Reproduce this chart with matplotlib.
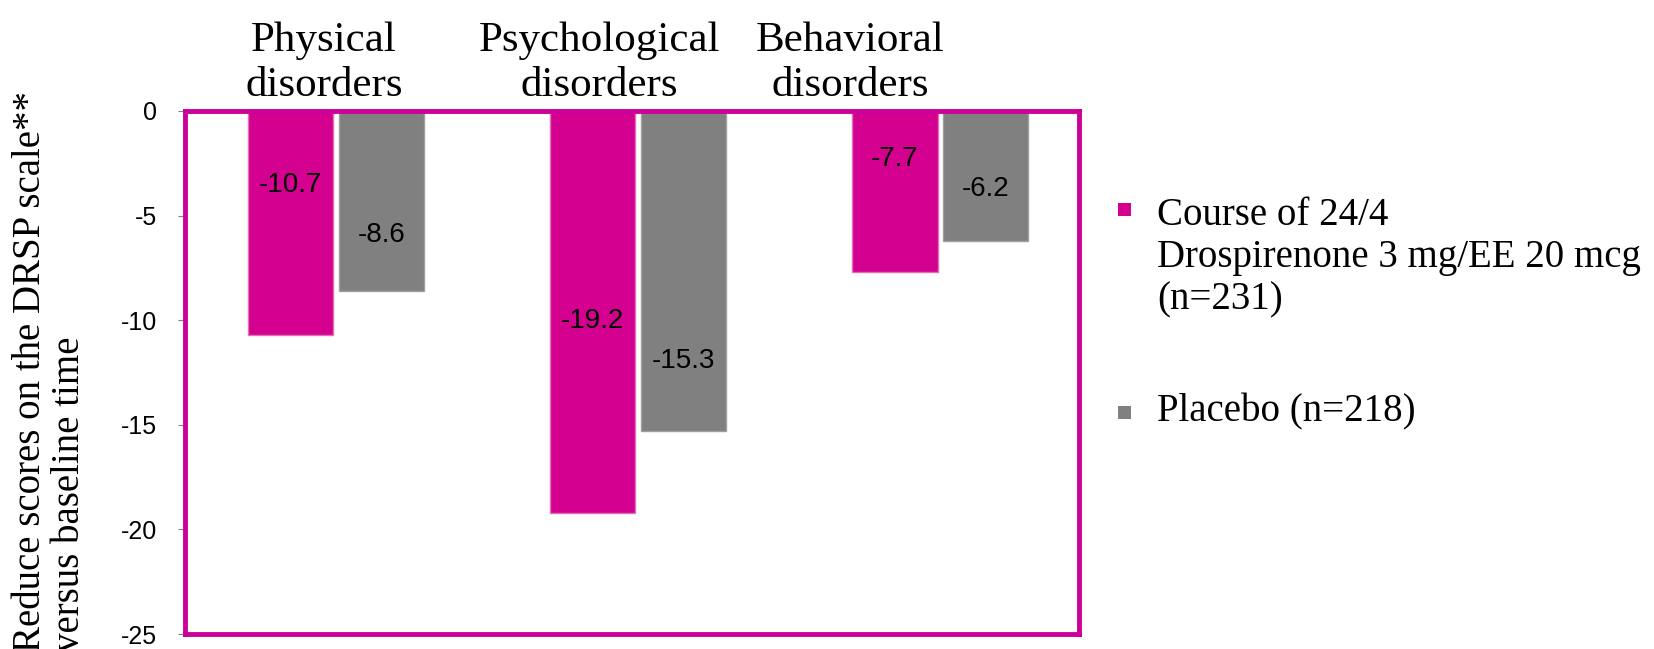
import matplotlib
matplotlib.use('Agg')
import matplotlib.pyplot as plt
from matplotlib.patches import Rectangle
import numpy as np

# Datos
categorias = ['Physical\ndisorders', 'Psychological\ndisorders', 'Behavioral\ndisorders']
series = ['Course of 24/4\nDrospirenone 3 mg/EE 20 mcg\n(n=231)', 'Placebo (n=218)']
drospirenona = [-10.7, -19.2, -7.7]
placebo = [-8.6, -15.3, -6.2]
yticks = [0, -5, -10, -15, -20, -25]

# Estilos
rosa, gris, marco = '#D4008F', '#808080', '#CC0099'
serif = 'Liberation Serif'
sans = 'Liberation Sans'

fig = plt.figure(figsize=(16.54, 6.49), dpi=100)
ax = fig.add_axes([0.1118, 0.023, 0.5406, 0.806])

x = np.arange(len(categorias))
ancho = 0.283
b1 = ax.bar(x - 0.15, drospirenona, ancho, color=rosa, edgecolor='#E070B8', linewidth=1)
b2 = ax.bar(x + 0.15, placebo, ancho, color=gris, edgecolor='#A0A0A0', linewidth=1)

# Etiquetas de valores (alturas como en el original)
pos_rosa = [-3.55, -10.05, -2.3]
pos_gris = [-5.95, -11.95, -3.75]
for rect, v, yy in zip(b1, drospirenona, pos_rosa):
    ax.text(rect.get_x() + rect.get_width() / 2, yy, f'{v:.1f}', ha='center', va='center',
            fontsize=20, family=sans)
for rect, v, yy in zip(b2, placebo, pos_gris):
    ax.text(rect.get_x() + rect.get_width() / 2, yy, f'{v:.1f}', ha='center', va='center',
            fontsize=20, family=sans)

ax.set_xlim(-0.5, 2.46)
ax.set_ylim(-25, 0)
ax.set_yticks(yticks)
ax.set_yticklabels([str(t) for t in yticks], family=sans, fontsize=18)
ax.set_xticks([])
ax.tick_params(axis='y', direction='out', length=5, color=gris, pad=15)

for s in ax.spines.values():
    s.set_color(marco)
    s.set_linewidth(3.5)

# Categorias arriba
xlab = [-0.04, 0.873, 1.703]
for xl, c in zip(xlab, categorias):
    ax.text(xl, 0.3, c, ha='center', va='bottom', fontsize=31, family=serif, linespacing=1.2)

# Titulo eje y
fig.text(0.007, -0.004, 'Reduce scores on the DRSP scale**\nversus baseline time', rotation=90,
         ha='left', va='bottom', multialignment='left', fontsize=28, family=serif, linespacing=1.1)

# Leyenda
colores = [rosa, gris]
cuadro_y = [0.667, 0.3545]
texto_y = [0.603, 0.365]
for col, lab, cy, ty in zip(colores, series, cuadro_y, texto_y):
    fig.add_artist(Rectangle((0.676, cy), 0.0079, 0.02, transform=fig.transFigure,
                             facecolor=col, edgecolor='none'))
    fig.text(0.6995, ty, lab, ha='left', va='center', fontsize=28, family=serif, linespacing=1.2)

plt.savefig('out.png', dpi=100)
